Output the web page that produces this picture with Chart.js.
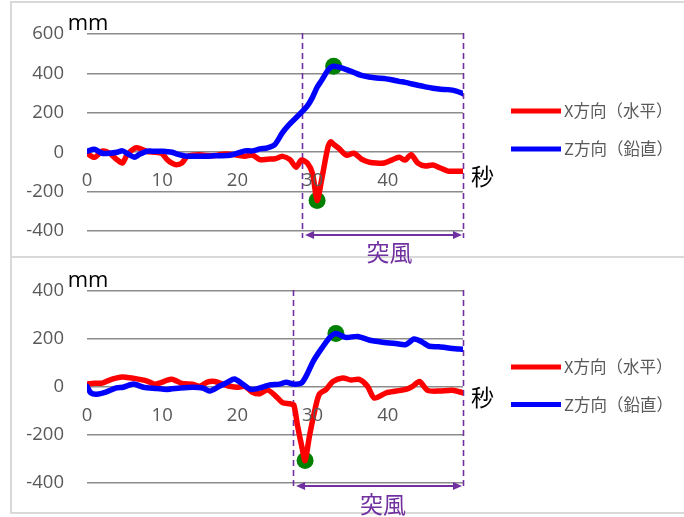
<!DOCTYPE html>
<html>
<head>
<meta charset="utf-8">
<script src="https://cdn.jsdelivr.net/npm/chart.js@4/dist/chart.umd.min.js"></script>
<style>
  html, body { margin: 0; padding: 0; background: #fff; }
  #wrap { position: relative; width: 684px; height: 517px; overflow: hidden; }
  .frame { position: absolute; box-sizing: border-box; border: 2px solid #d9d9d9; }
  canvas { position: absolute; left: 0; }
</style>
</head>
<body>
<div id="wrap">
  <div class="frame" style="left:10px; top:1px; width:690px; height:257px;"></div>
  <div class="frame" style="left:10px; top:256px; width:690px; height:258px;"></div>
  <canvas id="chartTop" width="684" height="266" style="top:0;"></canvas>
  <canvas id="chartBottom" width="684" height="260" style="top:257px;"></canvas>
</div>
<script>
// ---- series labels and axis text ----
const seriesLabels = ['X方向（水平）', 'Z方向（鉛直）'];
const unitLabel = 'mm';
const timeLabel = '秒';
const gustLabel = '突風';
const xTickValues = [0, 10, 20, 30, 40];

// ---- upper panel ----
const topTime = [0, 1, 2, 3, 4, 4.7, 5.3, 6.3, 7, 8, 9, 10, 10.6, 11.3, 11.9, 12.6, 13.3, 14, 15, 16, 17, 18, 19, 20, 21, 22, 23, 24, 25, 26, 27, 27.8, 28.5, 29.3, 30, 30.6, 31.2, 32, 32.4, 32.8, 33.5, 34.5, 35.5, 36.5, 37.5, 38.5, 39.5, 40.5, 41.5, 42.3, 43.1, 44, 45, 46, 47, 48, 49, 50];
const topX = [-5, -26, 5, -5, -38, -55, -15, 20, 20, 3, 0, -8, -35, -55, -63, -55, -22, -15, -13, -17, -17, -10, -10, -15, -20, -14, -38, -35, -33, -21, -38, -76, -40, -55, -110, -245, -140, 20, 53, 40, 20, -15, -5, -35, -50, -55, -55, -40, -25, -40, -13, -55, -70, -65, -80, -96, -96, -96];
const topZ = [5, 15, -5, -5, 0, 7, -5, -25, -10, 5, 5, 5, 3, 0, -8, -15, -20, -20, -20, -20, -18, -18, -15, -5, 7, 7, 17, 22, 40, 100, 145, 175, 202, 235, 280, 330, 365, 415, 430, 437, 432, 420, 405, 390, 382, 377, 375, 368, 360, 355, 348, 340, 332, 325, 320, 318, 312, 298];
const topPeakTime = [32.8, 30.6];
const topPeakValue = [437, -245];
const topGust = [28.6, 50];
const topYTicks = [-400, -200, 0, 200, 400, 600];

// ---- lower panel ----
const bottomXTime = [0, 1, 2, 3, 4, 4.7, 5.3, 6.3, 7, 8, 9, 10, 10.6, 11.3, 11.9, 12.6, 13.3, 14, 15, 16, 17, 18, 19, 20, 21, 22, 23, 24, 25, 26, 27, 27.5, 28, 28.6, 29, 29.6, 30.3, 30.9, 31.8, 32.7, 34, 35.1, 36.2, 37.3, 38.2, 39.8, 41.1, 42.4, 43.3, 44.2, 45.3, 46.8, 48.6, 50];
const bottomX = [12, 16, 16, 29, 38, 42, 40, 36, 32, 25, 12, 20, 28, 32, 25, 15, 13, 12, 3, 20, 23, 12, 3, -1, 3, -22, -28, -12, -35, -65, -70, -75, -162, -254, -307, -201, -96, -30, -10, 23, 38, 29, 32, 3, -46, -24, -17, -10, 3, 23, -14, -17, -14, -24];
const bottomZTime = [0, 0.5, 1.3, 2.6, 3.9, 4.8, 6.2, 7.5, 9.3, 10.6, 12.4, 14.1, 15.4, 16.3, 17.6, 18.7, 19.6, 20.7, 21.8, 23.3, 24.3, 25.6, 26.5, 27.4, 28.5, 29.2, 30.1, 31.2, 32.3, 33.1, 34.4, 36, 37.5, 39.3, 41.1, 42.4, 43.5, 44.6, 45.5, 46.8, 48.6, 50];
const bottomZ = [3, -24, -30, -20, -4, -1, 12, -1, -6, -10, -4, -1, -4, -17, 3, 20, 33, 12, -10, -1, 9, 12, 20, 12, 16, 49, 108, 161, 207, 223, 207, 211, 196, 187, 181, 177, 200, 187, 170, 168, 161, 157];
const bottomPeakTime = [33.1, 29.0];
const bottomPeakValue = [223, -307];
const bottomGust = [27.4, 50];
const bottomYTicks = [-400, -200, 0, 200, 400];

const RED = '#ff0000', BLUE = '#0000ff', GREEN = '#008000', PURPLE = '#7030a0', GREY_TXT = '#595959';
const NUM_FONT = '"Open Sans", "Liberation Sans", sans-serif';
const JP_FONT = '"Noto Sans CJK JP", sans-serif';
const NUM_SIZE = 18.5;

const pts = (xs, ys) => xs.map((x, i) => ({ x, y: ys[i] }));

// Extra drawing: x tick labels on the zero line, unit/time captions,
// the side legend, and the gust span marker.
const panelDecor = {
  id: 'panelDecor',
  beforeDatasetsDraw(chart, args, o) {
    const { ctx, chartArea, scales: { x } } = chart;
    ctx.save();
    ctx.strokeStyle = PURPLE;
    ctx.lineWidth = 1.6;
    ctx.setLineDash([6, 4]);
    o.gust.forEach(t => {
      const px = Math.round(x.getPixelForValue(t)) + 0.5;
      ctx.beginPath();
      ctx.moveTo(px, chartArea.top - 1);
      ctx.lineTo(px, chartArea.bottom + o.dashBelow);
      ctx.stroke();
    });
    ctx.restore();
  },
  afterDraw(chart, args, o) {
    const { ctx, chartArea, scales: { x, y } } = chart;
    const zero = y.getPixelForValue(0);
    ctx.save();
    // x tick labels
    ctx.fillStyle = GREY_TXT;
    ctx.font = NUM_SIZE + 'px ' + NUM_FONT;
    ctx.textAlign = 'center';
    ctx.textBaseline = 'middle';
    xTickValues.forEach(v => ctx.fillText(String(v), x.getPixelForValue(v), zero + 28.5));
    // unit caption
    ctx.fillStyle = '#000';
    ctx.font = '22px ' + NUM_FONT;
    ctx.textBaseline = 'alphabetic';
    ctx.fillText(unitLabel, 88, chartArea.top - 4);
    // time caption
    ctx.font = '23px ' + JP_FONT;
    ctx.textBaseline = 'middle';
    ctx.fillText(timeLabel, o.timeX, o.timeY);
    // legend
    ctx.textAlign = 'left';
    ctx.font = '16.5px ' + JP_FONT;
    chart.data.datasets.filter(d => d.inLegend).forEach((d, i) => {
      const ly = o.legendY + i * o.legendGap;
      ctx.strokeStyle = d.borderColor;
      ctx.lineWidth = 5;
      ctx.setLineDash([]);
      ctx.beginPath();
      ctx.moveTo(511, ly);
      ctx.lineTo(561, ly);
      ctx.stroke();
      ctx.fillStyle = GREY_TXT;
      ctx.fillText(d.label, 564, ly);
    });
    // gust span arrow
    const x0 = x.getPixelForValue(o.gust[0]) + 3;
    const x1 = x.getPixelForValue(o.gust[1]) - 1;
    const ay = chartArea.bottom + o.arrowBelow;
    ctx.strokeStyle = PURPLE;
    ctx.fillStyle = PURPLE;
    ctx.lineWidth = 2;
    ctx.beginPath();
    ctx.moveTo(x0 + 6, ay);
    ctx.lineTo(x1 - 6, ay);
    ctx.stroke();
    ctx.beginPath();
    ctx.moveTo(x0, ay); ctx.lineTo(x0 + 9, ay - 4); ctx.lineTo(x0 + 9, ay + 4); ctx.closePath();
    ctx.fill();
    ctx.beginPath();
    ctx.moveTo(x1, ay); ctx.lineTo(x1 - 9, ay - 4); ctx.lineTo(x1 - 9, ay + 4); ctx.closePath();
    ctx.fill();
    ctx.font = '23px ' + JP_FONT;
    ctx.textAlign = 'center';
    ctx.fillText(gustLabel, (x0 + x1) / 2 + o.gustTextShift, chartArea.bottom + o.gustTextBelow);
    ctx.restore();
  }
};

function buildPanel(canvasId, xs1, ys1, xs2, ys2, peakT, peakV, yTicks, pad, decor) {
  return new Chart(document.getElementById(canvasId), {
    type: 'line',
    data: {
      datasets: [
        { label: 'peak', data: pts(peakT, peakV), showLine: false, pointRadius: 8.5,
          pointBackgroundColor: GREEN, pointBorderWidth: 0, borderColor: GREEN, order: 3, inLegend: false },
        { label: seriesLabels[0], data: pts(xs1, ys1), borderColor: RED, borderWidth: 5.5,
          pointRadius: 0, tension: 0.25, borderJoinStyle: 'round', borderCapStyle: 'round', order: 2, inLegend: true },
        { label: seriesLabels[1], data: pts(xs2, ys2), borderColor: BLUE, borderWidth: 5.5,
          pointRadius: 0, tension: 0.25, borderJoinStyle: 'round', borderCapStyle: 'round', order: 1, inLegend: true }
      ]
    },
    options: {
      responsive: false,
      animation: false,
      events: [],
      layout: { padding: pad },
      scales: {
        x: { type: 'linear', min: 0, max: 50, display: false },
        y: {
          min: yTicks[0], max: yTicks[yTicks.length - 1],
          afterBuildTicks: s => { s.ticks = yTicks.map(v => ({ value: v })); },
          afterFit: s => { s.width = 87 - pad.left; },
          border: { display: false },
          grid: { color: '#8c8c8c', lineWidth: 1.6, drawTicks: false },
          ticks: { color: GREY_TXT, font: { family: NUM_FONT, size: NUM_SIZE }, padding: 23 }
        }
      },
      plugins: { legend: { display: false }, tooltip: { enabled: false }, panelDecor: decor }
    },
    plugins: [panelDecor]
  });
}

buildPanel('chartTop', topTime, topX, topTime, topZ, topPeakTime, topPeakValue, topYTicks,
  { left: 0, right: 221, top: 29, bottom: 35 },
  { gust: topGust, dashBelow: 7, arrowBelow: 4, gustTextBelow: 21.5, gustTextShift: 6,
    timeX: 482.5, timeY: 176.5, legendY: 111, legendGap: 38 });

buildPanel('chartBottom', bottomXTime, bottomX, bottomZTime, bottomZ, bottomPeakTime, bottomPeakValue, bottomYTicks,
  { left: 0, right: 221, top: 27, bottom: 30 },
  { gust: bottomGust, dashBelow: 6, arrowBelow: 3, gustTextBelow: 21, gustTextShift: 4,
    timeX: 482.5, timeY: 140.5, legendY: 110, legendGap: 37.5 });
</script>
</body>
</html>
